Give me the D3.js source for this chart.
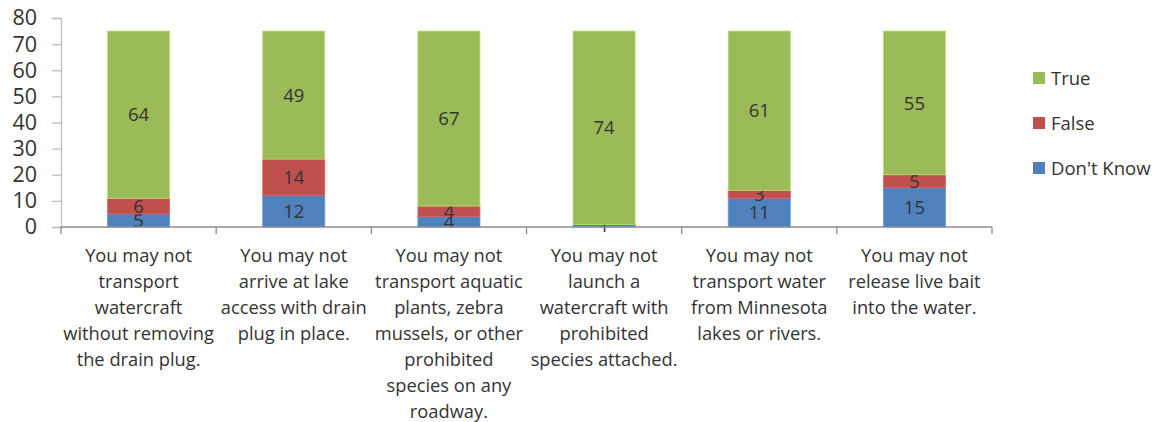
<!DOCTYPE html>
<html><head><meta charset="utf-8">
<script src="https://cdn.jsdelivr.net/npm/d3@7"></script>
<style>body{margin:0;background:#fff}svg{display:block}</style>
</head><body>
<svg id="c" width="1160" height="422"></svg>
<script>
const categories = [
  "You may not transport watercraft without removing the drain plug.",
  "You may not arrive at lake access with drain plug in place.",
  "You may not transport aquatic plants, zebra mussels, or other prohibited species on any roadway.",
  "You may not launch a watercraft with prohibited species attached.",
  "You may not transport water from Minnesota lakes or rivers.",
  "You may not release live bait into the water."
];
const labelLines = [
  ["You may not","transport","watercraft","without removing","the drain plug."],
  ["You may not","arrive at lake","access with drain","plug in place."],
  ["You may not","transport aquatic","plants, zebra","mussels, or other","prohibited","species on any","roadway."],
  ["You may not","launch a","watercraft with","prohibited","species attached."],
  ["You may not","transport water","from Minnesota","lakes or rivers."],
  ["You may not","release live bait","into the water."]
];
const dontKnow = [5, 12, 4, 1, 11, 15];
const falseVals = [6, 14, 4, 0, 3, 5];
const trueVals = [64, 49, 67, 74, 61, 55];
const seriesNames = ["Don't Know", "False", "True"];
const colors = ["#4F81BD", "#C0504D", "#9BBB59"];
const yTicks = [0,10,20,30,40,50,60,70,80];

const svg = d3.select("#c");
const font = "'Open Sans', sans-serif";
const x0 = 61, x1 = 992, yBase = 227, yTop = 18;
const x = d3.scaleBand().domain(categories).range([x0, x1]).paddingInner(0.6).paddingOuter(0.3);
const y = d3.scaleLinear().domain([0, 80]).range([yBase, yTop]);

const rows = categories.map((c, i) => ({cat: c, "Don't Know": dontKnow[i], "False": falseVals[i], "True": trueVals[i]}));
const stack = d3.stack().keys(seriesNames)(rows);

// y axis
const ya = svg.append("g").attr("transform", `translate(${x0},0)`)
  .call(d3.axisLeft(y).tickValues(yTicks).tickSize(9).tickPadding(15));
ya.select(".domain").attr("stroke", "#bfbfbf").attr("stroke-width", 1.3);
ya.selectAll(".tick line").attr("stroke", "#bfbfbf").attr("stroke-width", 1.3);
ya.selectAll(".tick text").attr("font-family", font).attr("font-size", 21.5).attr("fill", "#333");

// bars
stack.forEach((s, si) => {
  svg.append("g").selectAll("rect").data(s).join("rect")
    .attr("x", d => x(d.data.cat))
    .attr("width", x.bandwidth())
    .attr("y", d => y(d[1]))
    .attr("height", d => y(d[0]) - y(d[1]))
    .attr("fill", colors[si])
    .attr("stroke", d3.color(colors[si]).brighter(0.5))
    .attr("stroke-width", 0.8);
  svg.append("g").selectAll("text").data(s.filter(d => d[1] - d[0] > 0)).join("text")
    .attr("x", d => x(d.data.cat) + x.bandwidth() / 2)
    .attr("y", d => (y(d[0]) + y(d[1])) / 2)
    .attr("dy", "0.36em")
    .attr("text-anchor", "middle")
    .attr("font-family", font).attr("font-size", 18.5).attr("fill", "#333")
    .text(d => d[1] - d[0]);
});

// x axis
const xa = svg.append("g").attr("transform", `translate(0,${yBase})`);
xa.append("line").attr("x1", x0).attr("x2", x1).attr("stroke", "#8c8c8c").attr("stroke-width", 1.3);
const bounds = d3.range(categories.length + 1).map(i => x0 + i * (x1 - x0) / categories.length);
xa.selectAll("line.t").data(bounds).join("line").attr("class", "t")
  .attr("x1", d => d).attr("x2", d => d).attr("y1", 0).attr("y2", 7)
  .attr("stroke", "#8c8c8c").attr("stroke-width", 1.3);

categories.forEach((c, i) => {
  const cx = x(c) + x.bandwidth() / 2;
  const t = svg.append("text").attr("text-anchor", "middle")
    .attr("font-family", font).attr("font-size", 18.3).attr("fill", "#333");
  labelLines[i].forEach((ln, j) => {
    t.append("tspan").attr("x", cx).attr("y", 262 + j * 26).text(ln);
  });
});

// legend
const legendOrder = [2, 1, 0];
legendOrder.forEach((si, k) => {
  const ly = 78 + k * 45;
  svg.append("rect").attr("x", 1033).attr("y", ly - 6).attr("width", 12).attr("height", 12).attr("fill", colors[si]);
  svg.append("text").attr("x", 1051).attr("y", ly).attr("dy", "0.36em")
    .attr("font-family", font).attr("font-size", 18.5).attr("fill", "#333").text(seriesNames[si]);
});
</script>
</body></html>
